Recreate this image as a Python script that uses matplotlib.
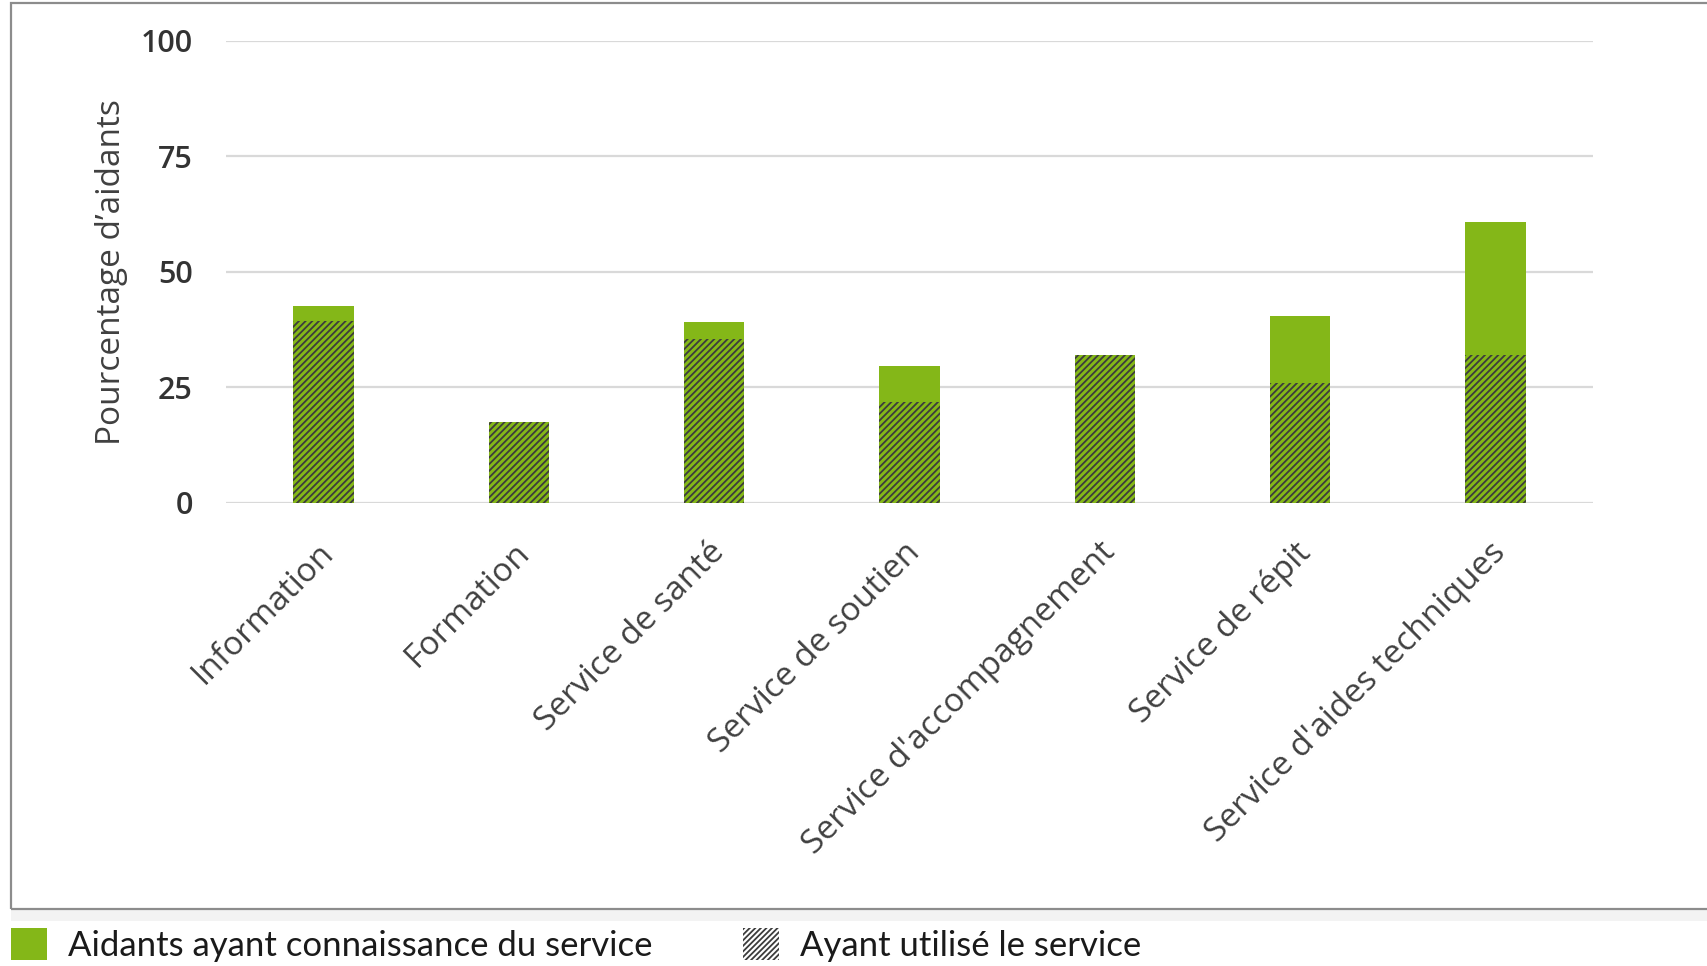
import numpy as np
import matplotlib.pyplot as plt
from matplotlib.patches import Patch, Rectangle
import matplotlib.transforms as mtransforms

# Données
categories = ["Information", "Formation", "Service de santé", "Service de soutien",
              "Service d'accompagnement", "Service de répit", "Service d'aides techniques"]
connaissance = [42.6, 17.5, 39.1, 29.7, 32.0, 40.5, 60.9]   # aidants ayant connaissance du service
utilisation = [39.4, 17.5, 35.4, 21.9, 32.0, 25.9, 32.0]    # ayant utilisé le service
yticks = [0, 25, 50, 75, 100]
legende = ["Aidants ayant connaissance du service", "Ayant utilisé le service"]

vert = '#84b718'
gris_hachure = '#3c3c3c'
gris_texte = '#404040'

plt.rcParams['font.family'] = ['Open Sans', 'DejaVu Sans']
plt.rcParams['hatch.linewidth'] = 1.3

fig = plt.figure(figsize=(17.07, 9.66), dpi=100)
ax = fig.add_axes([0.1324, 0.4793, 0.8008, 0.4783])

x = np.arange(len(categories))
largeur = 0.31
ax.bar(x, connaissance, width=largeur, color=vert, linewidth=0, zorder=2)
ax.bar(x, utilisation, width=largeur, color=vert, edgecolor=gris_hachure,
       linewidth=0, hatch='/////', zorder=3)

ax.set_xlim(-0.5, len(categories) - 0.5)
ax.set_ylim(0, 100)
ax.set_yticks(yticks)
ax.grid(axis='y', color='#d9d9d9', linewidth=1.6, zorder=0)
ax.set_axisbelow(True)
for s in ax.spines.values():
    s.set_visible(False)

ax.tick_params(axis='y', length=0, pad=24, labelcolor='#333333')
for lab in ax.get_yticklabels():
    lab.set_fontsize(22)
    lab.set_fontweight('semibold')
ax.tick_params(axis='x', length=0, pad=0)
ax.set_xticks(x)
ax.set_xticklabels(categories, rotation=45, ha='right', va='top',
                   rotation_mode='anchor', fontsize=24, color=gris_texte)
decalage = mtransforms.ScaledTranslation(-6 / 100, -33 / 100, fig.dpi_scale_trans)
for lab in ax.get_xticklabels():
    lab.set_transform(lab.get_transform() + decalage)

ax.set_ylabel("Pourcentage d\u2019aidants", fontsize=24, color=gris_texte)
ax.yaxis.set_label_coords(-0.072, 0.5)

# cadre gris autour du graphique
fig.add_artist(Rectangle((0.0064, 0.047), 1.0, 0.011, transform=fig.transFigure,
                         facecolor='#f3f3f3', edgecolor='none', zorder=0))
fig.add_artist(Rectangle((0.0064, 0.059), 1.0, 0.9379, transform=fig.transFigure,
                         fill=False, edgecolor='#8c8c8c', linewidth=1.6, zorder=1))

# légende sous le cadre
poignees = [Patch(facecolor=vert, edgecolor='none'),
            Patch(facecolor='white', edgecolor=gris_hachure, hatch='//////', linewidth=0)]
fig.legend(poignees, legende, loc='lower left', bbox_to_anchor=(0.0064, 0.004),
           ncol=2, frameon=False, borderpad=0, borderaxespad=0,
           handlelength=1.04, handleheight=1.04, handletextpad=0.6, columnspacing=2.6,
           prop={'family': ['Lato', 'DejaVu Sans'], 'size': 25},
           labelcolor='#1a1a1a')

fig.savefig('out.png', dpi=100)
